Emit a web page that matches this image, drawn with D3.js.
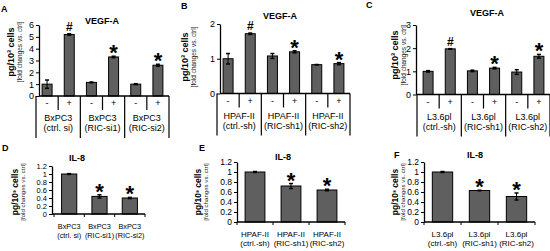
<!DOCTYPE html>
<html>
<head>
<meta charset="utf-8">
<script src="https://cdn.jsdelivr.net/npm/d3@7"></script>
<style>
  body { margin: 0; background: #fff; }
  svg { display: block; font-family: "Liberation Sans", Arial, sans-serif; }
</style>
</head>
<body>
<svg id="mainsvg" width="550" height="251"></svg>
<script>
// ---- data ----
const signs = ['-', '+'];

const linesA = ['BxPC3', 'BxPC3', 'BxPC3'];
const condsA = ['(ctrl. si)', '(RIC-si1)', '(RIC-si2)'];
const valuesA = [1.0, 5.2, 1.15, 3.3, 1.0, 2.6];
const errorsA = [0.35, 0.06, 0.03, 0.06, 0.04, 0.08];
const marksA = ['', '#', '', '*', '', '*'];
const ticksA = [0, 1, 2, 3, 4, 5, 6];

const linesB = ['HPAF-II', 'HPAF-II', 'HPAF-II'];
const condsB = ['(ctrl.-sh)', '(RIC-sh1)', '(RIC-sh2)'];
const valuesB = [1.0, 1.72, 1.08, 1.2, 0.83, 0.86];
const errorsB = [0.15, 0.02, 0.07, 0.03, 0.005, 0.03];
const marksB = ['', '#', '', '*', '', '*'];
const ticksB = [0, 1, 2];

const linesC = ['L3.6pl', 'L3.6pl', 'L3.6pl'];
const condsC = ['(ctrl.-sh)', '(RIC-sh1)', '(RIC-sh2)'];
const valuesC = [1.0, 1.97, 1.02, 1.14, 0.97, 1.65];
const errorsC = [0.03, 0.01, 0.03, 0.03, 0.1, 0.08];
const marksC = ['', '#', '', '*', '', '*'];
const ticksC = [0, 1, 2, 3];

const valuesD = [1.0, 0.44, 0.40];
const errorsD = [0.01, 0.04, 0.015];
const valuesE = [1.0, 0.72, 0.64];
const errorsE = [0.01, 0.05, 0.015];
const valuesF = [1.0, 0.63, 0.51];
const errorsF = [0.01, 0.005, 0.07];
const marksIL = ['', '*', '*'];
const ticksIL = [0, 0.2, 0.4, 0.6, 0.8, 1, 1.2];

const yTitle = 'pg/10³ cells';
const ySub = '[fold changes vs. ctrl]';

const svg = d3.select('#mainsvg');
const barFill = '#5f5f5f';

function yLabel(g, x, y, big) {
  const t = g.append('text').attr('transform', `translate(${x},${y}) rotate(-90)`)
    .attr('text-anchor', 'middle');
  t.append('tspan').attr('x', 0).attr('y', 0).attr('font-size', big).attr('font-weight', 'bold').text(yTitle);
  t.append('tspan').attr('x', 0).attr('y', big * 0.85).attr('font-size', big * 0.72).attr('fill', '#222').text(ySub);
}

function drawMarks(g, vals, errs, marks, x, y, cx) {
  marks.forEach((m, i) => {
    if (!m) return;
    const top = y(vals[i] + errs[i]);
    g.append('text').attr('x', cx(i)).attr('text-anchor', 'middle')
      .attr('y', m === '#' ? top - 3 : top + 4)
      .attr('font-size', m === '#' ? 12 : 22).attr('font-weight', 'bold')
      .text(m);
  });
}

function bars(g, vals, errs, x, y, base) {
  vals.forEach((v, i) => {
    g.append('rect').attr('x', x(i)).attr('y', y(v))
      .attr('width', x.bandwidth()).attr('height', base - y(v))
      .attr('fill', barFill).attr('stroke', '#000').attr('stroke-width', 1);
    const cx = x(i) + x.bandwidth() / 2;
    const e = errs[i];
    g.append('line').attr('x1', cx).attr('x2', cx).attr('y1', y(v - e)).attr('y2', y(v + e)).attr('stroke', '#000');
    [v - e, v + e].forEach(w => g.append('line')
      .attr('x1', cx - 2).attr('x2', cx + 2).attr('y1', y(w)).attr('y2', y(w)).attr('stroke', '#000').attr('stroke-width', 1.5));
  });
}

// top row: VEGF-A with -/+ table under the axis
function vegfPanel(p, lines, conds, vals, errs, marks, ticks) {
  const g = svg.append('g');
  const y = d3.scaleLinear().domain([0, d3.max(ticks)]).range([p.base, p.top]);
  const x = d3.scaleBand().domain(d3.range(vals.length)).range([p.xl, p.xr]).paddingInner(0.55).paddingOuter(0.275);
  const gx = d3.scaleBand().domain(d3.range(lines.length)).range([p.xl, p.xr]);

  g.append('text').attr('x', p.lx).attr('y', p.ly).attr('font-size', 9).attr('font-weight', 'bold').text(p.letter);
  g.append('text').attr('x', p.tx).attr('y', p.ty).attr('text-anchor', 'middle')
    .attr('font-size', 9).attr('font-weight', 'bold').text('VEGF-A');
  yLabel(g, p.labX, p.labY, 9);

  bars(g, vals, errs, x, y, p.base);
  drawMarks(g, vals, errs, marks, x, y, i => x(i) + x.bandwidth() / 2);

  const ax = g.append('g').attr('transform', `translate(${p.axisX},0)`)
    .call(d3.axisLeft(y).tickValues(ticks).tickSize(3).tickSizeOuter(0).tickFormat(d => d));
  ax.select('.domain').attr('stroke-width', 1.3);
  ax.selectAll('text').attr('font-size', 9).attr('font-family', 'inherit').attr('x', -5);

  g.append('line').attr('x1', p.axisX).attr('x2', p.xr).attr('y1', p.base).attr('y2', p.base)
    .attr('stroke', '#000').attr('stroke-width', 1.3);

  // table
  d3.range(lines.length + 1).forEach(k => {
    const xx = k < lines.length ? gx(k) : p.xr;
    g.append('line').attr('x1', xx).attr('x2', xx).attr('y1', p.base).attr('y2', p.base + 42)
      .attr('stroke', '#000').attr('stroke-width', 1.2);
  });
  lines.forEach((name, k) => {
    const mid = gx(k) + gx.bandwidth() / 2;
    g.append('line').attr('x1', mid).attr('x2', mid).attr('y1', p.base).attr('y2', p.base + 14)
      .attr('stroke', '#000').attr('stroke-width', 1.2);
    signs.forEach((s, j) => {
      const i = k * 2 + j;
      g.append('text').attr('x', x(i) + x.bandwidth() / 2).attr('y', p.base + 10)
        .attr('text-anchor', 'middle').attr('font-size', 9).attr('fill', '#000').text(s);
    });
    g.append('text').attr('x', mid).attr('y', p.base + 25).attr('text-anchor', 'middle').attr('font-size', 9).text(name);
    g.append('text').attr('x', mid).attr('y', p.base + 35).attr('text-anchor', 'middle').attr('font-size', 9).text(conds[k]);
  });
}

// bottom row: IL-8
function ilPanel(p, lines, conds, vals, errs, marks, ticks) {
  const g = svg.append('g');
  const y = d3.scaleLinear().domain([0, d3.max(ticks)]).range([p.base, p.top]);
  const x = d3.scaleBand().domain(d3.range(vals.length)).range([p.xl, p.xr])
    .paddingInner(p.pad).paddingOuter(p.pad / 2);

  g.append('text').attr('x', p.lx).attr('y', p.ly).attr('font-size', 9).attr('font-weight', 'bold').text(p.letter);
  g.append('text').attr('x', p.tx).attr('y', p.ty).attr('text-anchor', 'middle')
    .attr('font-size', 9).attr('font-weight', 'bold').text('IL-8');
  yLabel(g, p.labX, p.labY, 8.5);

  bars(g, vals, errs, x, y, p.base);
  drawMarks(g, vals, errs, marks, x, y, i => x(i) + x.bandwidth() / 2);

  const ax = g.append('g').attr('transform', `translate(${p.axisX},0)`)
    .call(d3.axisLeft(y).tickValues(ticks).tickSize(3).tickSizeOuter(0).tickFormat(d => d));
  ax.select('.domain').attr('stroke-width', 1.3);
  ax.selectAll('text').attr('font-size', p.tickFont).attr('font-family', 'inherit').attr('x', -5);

  const bx = g.append('g').attr('transform', `translate(0,${p.base})`)
    .call(d3.axisBottom(x).tickSize(0).tickSizeOuter(0).tickFormat(''));
  bx.select('.domain').attr('d', `M${p.axisX},0H${p.xr}`).attr('stroke-width', 1.3);
  d3.range(vals.length + 1).forEach(k => {
    const xx = p.xl + k * x.step();
    g.append('line').attr('x1', xx).attr('x2', xx).attr('y1', p.base).attr('y2', p.base + 3).attr('stroke', '#000');
  });
  lines.forEach((name, k) => {
    const cx = x(k) + x.bandwidth() / 2;
    g.append('text').attr('x', cx).attr('y', p.base + 15).attr('text-anchor', 'middle').attr('font-size', p.catFont).text(name);
    g.append('text').attr('x', cx).attr('y', p.base + 24).attr('text-anchor', 'middle').attr('font-size', p.catFont).text(conds[k]);
  });
}

vegfPanel({ letter: 'A', lx: 1, ly: 12, tx: 102, ty: 24, axisX: 39, xl: 36, xr: 169, base: 96, top: 25, labX: 14, labY: 52 },
  linesA, condsA, valuesA, errorsA, marksA, ticksA);
vegfPanel({ letter: 'B', lx: 181, ly: 9, tx: 280, ty: 19, axisX: 220, xl: 217, xr: 350, base: 93.5, top: 24, labX: 188, labY: 57 },
  linesB, condsB, valuesB, errorsB, marksB, ticksB);
vegfPanel({ letter: 'C', lx: 366, ly: 8, tx: 487, ty: 16, axisX: 416, xl: 417, xr: 550, base: 94.5, top: 25, labX: 398, labY: 55 },
  linesC, condsC, valuesC, errorsC, marksC, ticksC);

ilPanel({ letter: 'D', lx: 2, ly: 151, tx: 77, ty: 161, axisX: 52, xl: 54, xr: 145, pad: 0.5, base: 214, top: 166, tickFont: 7.5, catFont: 7.3, labX: 18, labY: 192 },
  linesA, condsA, valuesD, errorsD, marksIL, ticksIL);
ilPanel({ letter: 'E', lx: 199, ly: 151, tx: 283, ty: 160, axisX: 237, xl: 237, xr: 345, pad: 0.45, base: 222, top: 162, tickFont: 8.5, catFont: 8, labX: 201, labY: 192 },
  linesB, condsB, valuesE, errorsE, marksIL, ticksIL);
ilPanel({ letter: 'F', lx: 394, ly: 158, tx: 475, ty: 158, axisX: 424, xl: 424, xr: 535, pad: 0.45, base: 222, top: 162, tickFont: 8.5, catFont: 8, labX: 398, labY: 192 },
  linesC, condsC, valuesF, errorsF, marksIL, ticksIL);
</script>
</body>
</html>
